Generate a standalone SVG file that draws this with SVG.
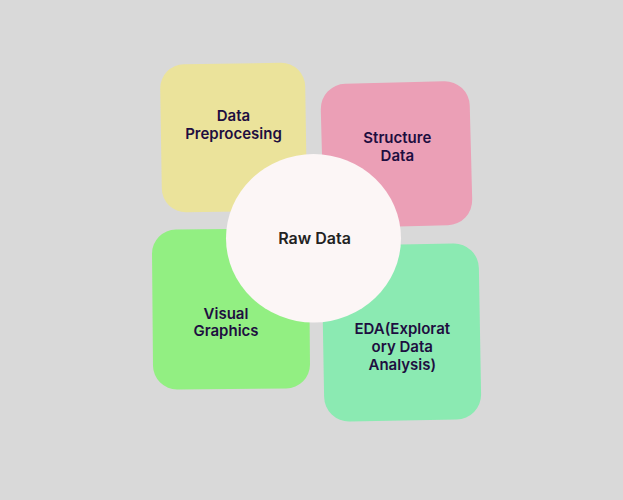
<svg xmlns="http://www.w3.org/2000/svg" width="623" height="500" viewBox="0 0 623 500">
<style>
.t{font-family:Inter,"Noto Sans","Liberation Sans",sans-serif;font-weight:600;font-size:15px;fill:#1e0e40;text-anchor:middle}
.c{font-family:Inter,"Noto Sans","Liberation Sans",sans-serif;font-weight:600;font-size:16px;fill:#222222;text-anchor:middle}
</style>
<rect width="623" height="500" fill="#d9d9d9"/>
<g id="data-preprocessing">
<rect x="161" y="63.5" width="145" height="148" rx="24" fill="#ebe39b" transform="rotate(-0.9 233.5 137.5)"/>
<text class="t" x="233.5" y="120.7">Data</text>
<text class="t" x="233.5" y="139">Preprocesing</text>
</g>
<g id="structure-data">
<rect x="322" y="82.5" width="149" height="144" rx="25" fill="#eb9fb6" transform="rotate(-1.5 396.5 154.5)"/>
<text class="t" x="397.3" y="143.3">Structure</text>
<text class="t" x="397.3" y="161">Data</text>
</g>
<g id="visual-graphics">
<rect x="152.5" y="229" width="157" height="160" rx="24" fill="#92ef82" transform="rotate(-0.5 231 309)"/>
<text class="t" x="226" y="318.7">Visual</text>
<text class="t" x="226" y="336">Graphics</text>
</g>
<g id="eda">
<rect x="323" y="244.5" width="157" height="176" rx="25" fill="#8beab2" transform="rotate(-1 401.5 332.5)"/>
<text class="t" x="402.3" y="334">EDA(Explorat</text>
<text class="t" x="402.3" y="351.7">ory Data</text>
<text class="t" x="402.3" y="369.5">Analysis)</text>
</g>
<g id="connectors"></g>
<g id="raw-data">
<ellipse cx="313.5" cy="238.3" rx="87.5" ry="84.2" fill="#fcf6f6"/>
<text class="c" x="314.5" y="244.3">Raw Data</text>
</g>
</svg>
